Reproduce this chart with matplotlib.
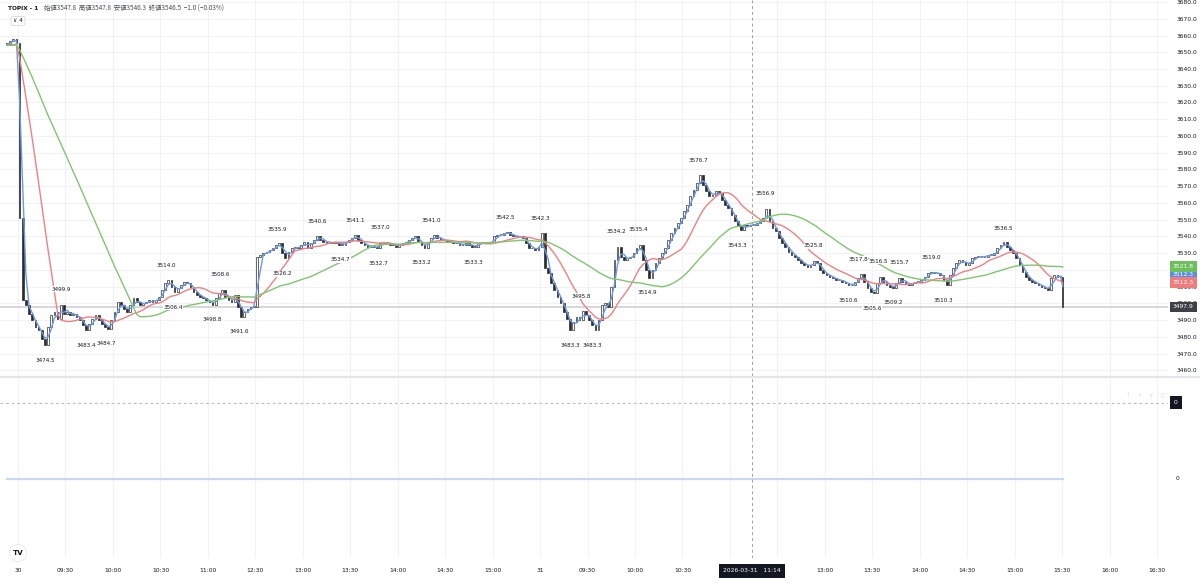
import numpy as np
import pandas as pd
import matplotlib
matplotlib.use("Agg")
import matplotlib.pyplot as plt
import matplotlib.transforms as mtransforms
from matplotlib.lines import Line2D

# ------------------------------------------------------------------ data
symbol_title = "TOPIX - 1"
ohlc_header = "始値3547.8  高値3547.8  安値3546.3  終値3546.5  −1.0 (−0.03%)"

# last bars of the previous session (visible at the far left) and MA warm-up level
prev_session_closes = [3655.0, 3657.0, 3658.0, 3655.6]
ma_seed_close = 3654.0

# 2-minute closes, 03-30 (09:00-11:30, 12:30-15:30), one row per 30 minutes
day1_closes = [
    3551, 3502, 3499, 3494, 3490, 3486, 3484, 3479, 3475, 3486, 3493, 3495, 3491, 3499, 3494,
    3495, 3493, 3494, 3492, 3490, 3487, 3484, 3488, 3491, 3493, 3490, 3488, 3486, 3485, 3490,
    3495, 3501, 3499, 3497, 3495, 3499, 3503, 3501, 3499, 3500, 3501, 3502, 3501, 3502, 3504,
    3508, 3512, 3514, 3510, 3507, 3509, 3511, 3513, 3512, 3510, 3507, 3505, 3504, 3503, 3502,
    3501, 3499, 3503, 3506, 3508, 3504, 3502, 3501, 3505, 3498, 3492, 3495, 3497, 3498, 3498,
    3528, 3529, 3530, 3531, 3532, 3533, 3535, 3536, 3530, 3527, 3531, 3533, 3534, 3533, 3535,
    3537, 3533, 3536, 3538, 3540.5, 3538, 3537, 3536, 3537, 3536, 3537, 3535, 3535, 3537, 3538,
    3539, 3541, 3538, 3536, 3535, 3534, 3534, 3534, 3533, 3536, 3537, 3536, 3535, 3535, 3534,
    3535, 3536, 3537, 3538, 3539, 3540, 3537, 3535, 3533, 3537, 3539, 3541, 3539, 3538, 3538,
    3537, 3537, 3536, 3536, 3535, 3535, 3536, 3535, 3534, 3534, 3536, 3537, 3536, 3536, 3537,
    3540, 3541, 3541, 3542, 3542.5, 3541, 3540, 3540, 3540, 3539, 3536, 3533, 3533, 3532, 3534,
]
# 2-minute closes, 03-31
day2_closes = [
    3542, 3521, 3518, 3512, 3508, 3504, 3500, 3495, 3491, 3484, 3489, 3492, 3490, 3495.5, 3493,
    3490, 3487, 3484, 3490, 3499, 3500, 3498, 3510, 3526, 3534, 3528, 3526, 3527, 3528, 3530,
    3533, 3535, 3526, 3520, 3515, 3520, 3524, 3527, 3530, 3533, 3538, 3542, 3545, 3548, 3551,
    3555, 3559, 3564, 3568, 3572, 3576.5, 3571, 3567, 3564, 3565, 3567, 3566, 3562, 3559, 3557,
    3553, 3549, 3546, 3544, 3547, 3546, 3547, 3547, 3548, 3549, 3551, 3556.5, 3549, 3545, 3543,
    3539, 3536, 3534, 3531, 3529, 3528, 3526, 3524, 3523, 3522, 3523, 3525.5, 3524, 3520, 3518,
    3517, 3516, 3515, 3514, 3514, 3513, 3512, 3511, 3511, 3513, 3515, 3517.5, 3513, 3509, 3507,
    3506, 3512, 3516, 3513, 3511, 3510, 3509.5, 3512, 3515.5, 3513, 3512, 3511, 3512, 3513, 3513,
    3514, 3516, 3518, 3519, 3518, 3518, 3517, 3514, 3511, 3517, 3521, 3524, 3526, 3525, 3523,
    3524, 3527, 3528, 3528, 3528, 3528, 3529, 3529, 3530, 3533, 3535, 3536.5, 3534, 3532, 3530,
    3527, 3523, 3519, 3516, 3514, 3513, 3512, 3511, 3510, 3509, 3508, 3515, 3517, 3516, 3516,
]
closing_auction_close = 3497.9

# pivot high / low labels (position in session minutes, value)
pivot_high_pos = [27, 94, 128, 164, 189, 213, 229, 261, 308, 330, 356, 378, 392,
                  430, 472, 503, 531, 544, 557, 577, 623]
pivot_high_val = [3499.9, 3514.0, 3508.6, 3535.9, 3540.6, 3541.1, 3537.0, 3541.0,
                  3542.5, 3542.3, 3495.8, 3534.2, 3535.4, 3576.7, 3556.9, 3525.8,
                  3517.8, 3516.5, 3515.7, 3519.0, 3536.5]
pivot_low_pos = [17, 43, 56, 98, 123, 140, 167, 204, 228, 255, 288, 349, 363,
                 398, 455, 525, 540, 553, 585]
pivot_low_val = [3474.5, 3483.4, 3484.7, 3506.4, 3498.8, 3491.6, 3526.2, 3534.7,
                 3532.7, 3533.2, 3533.3, 3483.3, 3483.3, 3514.9, 3543.3, 3510.6,
                 3505.6, 3509.2, 3510.3]

# moving averages (windows in 2-minute bars ~ 5 / 25 / 75 minutes) and their last-value tags
ma_names = ["blue", "red", "green"]
ma_windows = [3, 13, 38]
ma_colors = ["#6b9be6", "#f08080", "#80c66e"]
ma_tag_values = [3512.3, 3512.3, 3521.8]
ma_tag_colors = ["#5b8fdf", "#ef7d7d", "#6cbf5b"]

# empty indicator panes (value 0)
indicator_level = 0.0

time_tick_pos = [0, 30, 60, 90, 120, 150, 180, 210, 240, 270, 300,
                 330, 360, 390, 420, 450, 480, 510, 540, 570, 600, 630, 660, 690, 720]
# day-2 "11:00" sits under the crosshair time tag in the reference and is not visible
time_tick_labels = ["30", "09:30", "10:00", "10:30", "11:00", "12:30", "13:00", "13:30",
                    "14:00", "14:30", "15:00", "31", "09:30", "10:00", "10:30", "",
                    "12:30", "13:00", "13:30", "14:00", "14:30", "15:00", "15:30", "16:00",
                    "16:30"]
crosshair_pos = 464
crosshair_label = "2026-03-31   11:14"

# ------------------------------------------------------------------ bars
prev_pos = np.arange(-2 * len(prev_session_closes), 0, 2)
day1_pos = np.arange(0, 2 * len(day1_closes), 2)
day2_pos = np.arange(330, 330 + 2 * len(day2_closes), 2)
bar_pos = np.concatenate([prev_pos, day1_pos, day2_pos, [660]]).astype(float)
bar_w = np.concatenate([np.full(len(prev_pos) + len(day1_pos) + len(day2_pos), 2.0), [1.0]])
closes = np.array(prev_session_closes + day1_closes + day2_closes + [closing_auction_close], float)
opens = np.concatenate([[prev_session_closes[0]], closes[:-1]])
bar_x = bar_pos + bar_w / 2

# moving averages
warm = 40
series = pd.Series(np.concatenate([np.full(warm, ma_seed_close), closes]))
ma_lines = [series.rolling(w).mean().to_numpy()[warm:] for w in ma_windows]

# ------------------------------------------------------------------ figure
W, H = 1200, 584
fig = plt.figure(figsize=(W / 100, H / 100), dpi=100)
fig.patch.set_facecolor("white")
plt.rcParams["font.family"] = ["DejaVu Sans"]


def rect(x0, y0, x1, y1):
    return [x0 / W, 1 - y1 / H, (x1 - x0) / W, (y1 - y0) / H]


PX_PER_MIN = 1.582
X0_PX = 18.0
PLOT_RIGHT = 1168
xlim = (-X0_PX / PX_PER_MIN, (PLOT_RIGHT - X0_PX) / PX_PER_MIN)

ax = fig.add_axes(rect(0, 0, PLOT_RIGHT, 376))
ax2 = fig.add_axes(rect(0, 378, PLOT_RIGHT, 440))
ax3 = fig.add_axes(rect(0, 440, PLOT_RIGHT, 558))

TXT = "#131722"
GRID = "#f1f2f5"
FS = 4.3
LFS = 4.1

for a in (ax, ax2, ax3):
    a.set_xlim(*xlim)
    for s in a.spines.values():
        s.set_visible(False)
    a.set_xticks(time_tick_pos)
    a.set_axisbelow(True)
    a.grid(True, axis="x", color=GRID, lw=0.8)
    a.tick_params(axis="both", length=0)

# main pane
ax.set_ylim(3456.7, 3681.2)
yt = np.arange(3460, 3681, 10)
ax.set_yticks(yt)
ax.set_yticklabels([f"{v:.1f}" for v in yt])
ax.yaxis.tick_right()
ax.tick_params(axis="y", pad=6.5, labelsize=FS, labelcolor=TXT)
ax.tick_params(axis="x", labelbottom=False)
ax.grid(True, axis="y", color=GRID, lw=0.8)

# last price line
ax.axhline(closes[-1], color="#d5d7dd", lw=1.4, zorder=1)

# candles
up = closes >= opens
bottoms = np.minimum(opens, closes)
heights = np.maximum(np.abs(closes - opens), 0.25)
ax.bar(bar_x[up], heights[up], bottom=bottoms[up], width=bar_w[up] * 0.55,
       color="white", edgecolor="#2a2a2a", linewidth=0.5, zorder=3)
ax.bar(bar_x[~up], heights[~up], bottom=bottoms[~up], width=bar_w[~up] * 0.55,
       color="#2a2a2a", edgecolor="#2a2a2a", linewidth=0.5, zorder=3)

# moving averages
for line, col in zip(ma_lines, ma_colors):
    ax.plot(bar_x, line, color=col, lw=1.0, zorder=4, solid_capstyle="round")

# pivot labels
lbl_box = dict(boxstyle="square,pad=0.08", fc="white", ec="none")
for p, v in zip(pivot_high_pos, pivot_high_val):
    ax.annotate(f"{v:.1f}", (p, v), xytext=(0, 10.3), textcoords="offset points",
                ha="center", va="center", fontsize=LFS, color=TXT, bbox=lbl_box, zorder=5)
for p, v in zip(pivot_low_pos, pivot_low_val):
    ax.annotate(f"{v:.1f}", (p, v), xytext=(0, -10.3), textcoords="offset points",
                ha="center", va="center", fontsize=LFS, color=TXT, bbox=lbl_box, zorder=5)

# price tags on the scale
tr = mtransforms.blended_transform_factory(ax.transAxes, ax.transData)
tag_h = 4.9  # price units per tag height
placed = {}
prev_y = None
for i in sorted(range(len(ma_tag_values)), key=lambda i: (ma_tag_values[i], -i)):
    y = ma_tag_values[i]
    if prev_y is not None and y < prev_y + tag_h:
        y = prev_y + tag_h
    placed[i] = y
    prev_y = y
for i in range(len(ma_tag_values)):
    ax.text(1 + 5 / PLOT_RIGHT, placed[i], f"{ma_tag_values[i]:.1f}", transform=tr,
            ha="left", va="center", fontsize=FS, color="white", clip_on=False, zorder=6,
            bbox=dict(boxstyle="square,pad=0.5", fc=ma_tag_colors[i], ec="none"))
ax.text(1 + 5 / PLOT_RIGHT, closes[-1], f"{closes[-1]:.1f}", transform=tr,
        ha="left", va="center", fontsize=FS, color="white", clip_on=False, zorder=6,
        bbox=dict(boxstyle="square,pad=0.5", fc="#3e4048", ec="none"))

# indicator pane 1 (dashed zero line)
ax2.set_ylim(-1.52, 1)
ax2.set_yticks([])
ax2.tick_params(axis="x", labelbottom=False)
ax2.axhline(indicator_level, color="#b8bbc3", lw=0.8, ls=(0, (2.5, 2.5)))
tr2 = mtransforms.blended_transform_factory(ax2.transAxes, ax2.transData)
ax2.text(1 + 6 / PLOT_RIGHT, indicator_level, "0", transform=tr2, ha="left", va="center",
         fontsize=FS, color="white", clip_on=False,
         bbox=dict(boxstyle="square,pad=0.7", fc=TXT, ec="none"))
ax2.text(1 - 42 / PLOT_RIGHT, 0.72, "↑    ×    ∨    ○", transform=ax2.transAxes,
         ha="left", va="center", fontsize=4, color="#d6d8de")

# indicator pane 2 (flat line at zero)
ax3.set_ylim(-2.03, 1)
ax3.set_yticks([])
ax3.plot(bar_x, np.full(len(bar_x), indicator_level), color="#cad8f4", lw=1.6)
tr3 = mtransforms.blended_transform_factory(ax3.transAxes, ax3.transData)
ax3.text(1 + 8 / PLOT_RIGHT, indicator_level, "0", transform=tr3, ha="left", va="center",
         fontsize=FS, color=TXT, clip_on=False)
ax3.set_xticklabels(time_tick_labels)
ax3.tick_params(axis="x", labelsize=FS, labelcolor=TXT, pad=7.5)

# crosshair
for a in (ax, ax2, ax3):
    a.axvline(crosshair_pos, color="#9a9ea8", lw=0.7, ls=(0, (3, 3)), zorder=7)
cx = (X0_PX + crosshair_pos * PX_PER_MIN) / W
fig.text(cx, 1 - 571 / H, crosshair_label, ha="center", va="center", fontsize=FS,
         color="white", zorder=10, bbox=dict(boxstyle="square,pad=0.75", fc=TXT, ec="none"))

# pane separator
fig.add_artist(Line2D([0, 1], [1 - 377 / H] * 2, transform=fig.transFigure,
                      color="#e3e5ea", lw=1.6))

# header
fig.text(8 / W, 1 - 9 / H, symbol_title, ha="left", va="center", fontsize=4.2,
         color=TXT, weight="bold")
fig.text(44 / W, 1 - 9 / H, ohlc_header, ha="left", va="center", fontsize=4.6,
         color="#4a4d57", family=["Noto Sans CJK JP", "DejaVu Sans"])
fig.text(18 / W, 1 - 21 / H, "∨ 4", ha="center", va="center", fontsize=4.2, color=TXT,
         bbox=dict(boxstyle="round,pad=0.35", fc="white", ec="#d6d8de", lw=0.6))

# logo
fig.text(18 / W, 1 - 553 / H, "TV", ha="center", va="center", fontsize=5.2, color=TXT,
         weight="bold", bbox=dict(boxstyle="circle,pad=0.45", fc="white", ec="#e6e8ec", lw=0.6))

fig.savefig("out.png", dpi=100, facecolor="white")
